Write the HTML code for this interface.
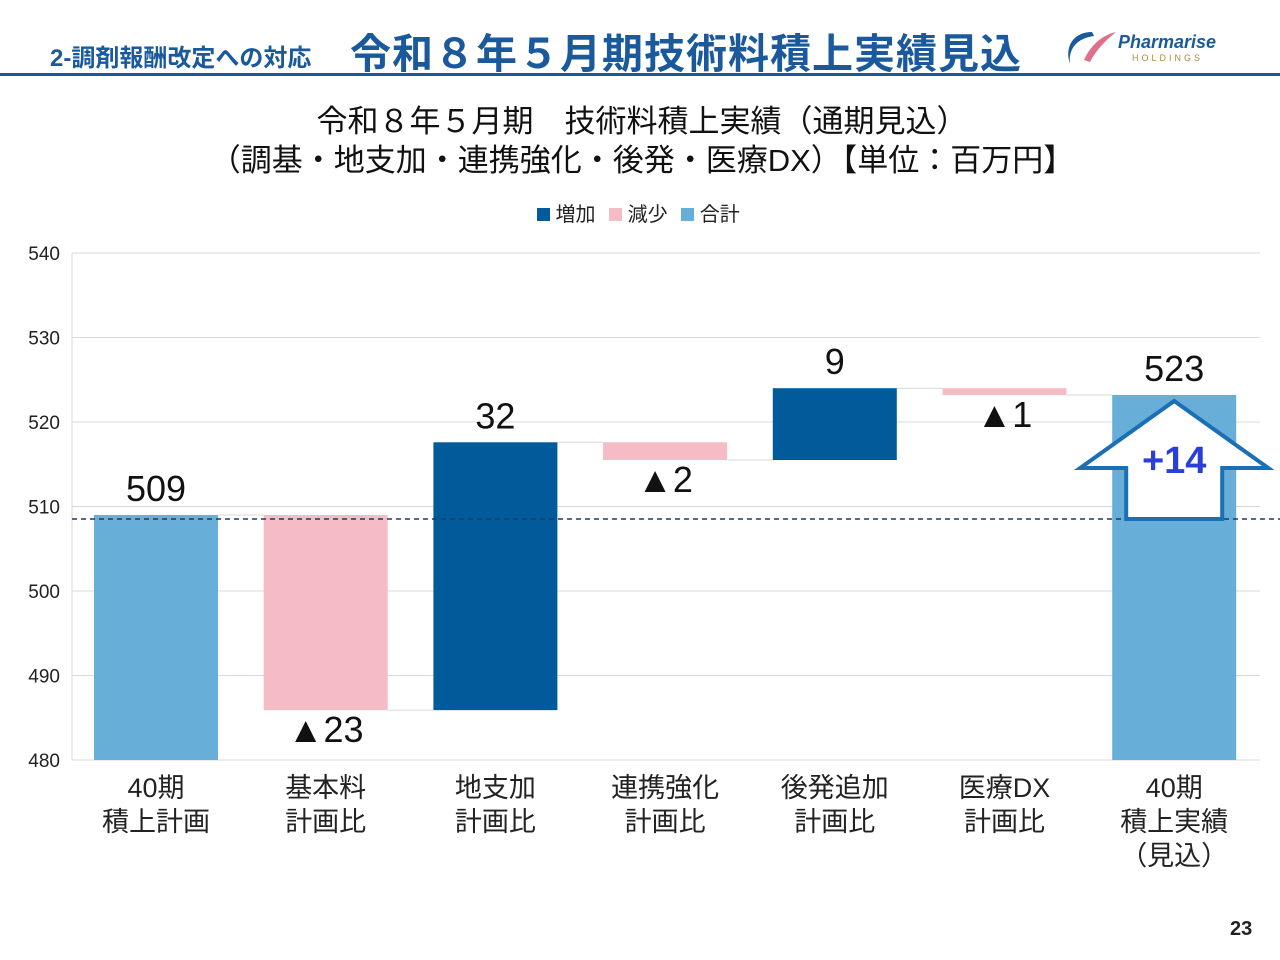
<!DOCTYPE html>
<html><head><meta charset="utf-8">
<style>
body{margin:0;width:1280px;height:960px;background:#fff;overflow:hidden;font-family:"Liberation Sans","Noto Sans CJK JP",sans-serif;position:relative}
.abs{position:absolute}
</style></head><body>
<div class="abs" style="left:50px;top:38px;font-size:24px;font-weight:bold;color:#1a5a9c;white-space:nowrap">2-調剤報酬改定への対応</div>
<div class="abs" style="left:350px;top:20px;font-size:41px;font-weight:bold;color:#1a5a9c;letter-spacing:1px;white-space:nowrap">令和８年５月期技術料積上実績見込</div>
<div class="abs" style="left:1062px;top:26px;width:170px;height:44px">
 <svg width="56" height="44" style="position:absolute;left:0;top:0"><path d="M30 6 C12 6 2 20 8 38 C6 22 16 12 32 10Z" fill="#1a5a9c"/><path d="M22 34 C30 16 44 8 54 6 C44 14 34 24 28 36Z" fill="#e0708a"/></svg>
 <div class="abs" style="left:56px;top:6px;font-size:18px;font-weight:bold;font-style:italic;color:#1a5a9c">Pharmarise</div>
 <div class="abs" style="left:70px;top:27px;font-size:9px;letter-spacing:3px;color:#b08a3a">HOLDINGS</div>
</div>
<div class="abs" style="left:0;top:73px;width:1280px;height:3px;background:#1a5a9c"></div>
<div class="abs" style="left:0;top:102px;width:1284px;text-align:center;font-size:31px;line-height:39px;color:#111;white-space:nowrap">令和８年５月期　技術料積上実績（通期見込）<br>（調基・地支加・連携強化・後発・医療DX）【単位：百万円】</div>
<div class="abs" style="left:537px;top:198px;font-size:20px;color:#222;white-space:nowrap">
<span><span style="display:inline-block;width:13px;height:13px;background:#015b9b"></span> 増加</span>
<span><span style="display:inline-block;width:13px;height:13px;background:#f5bcc5;margin-left:8px"></span> 減少</span>
<span><span style="display:inline-block;width:13px;height:13px;background:#67afd8;margin-left:8px"></span> 合計</span>
</div>
<svg id="chart" class="abs" style="left:0;top:0" width="1280" height="960"></svg>
<div class="abs" style="left:1230px;top:918px;font-size:20px;font-weight:bold;color:#222">23</div>
<script>
const categories=[["40期","積上計画"],["基本料","計画比"],["地支加","計画比"],["連携強化","計画比"],["後発追加","計画比"],["医療DX","計画比"],["40期","積上実績","（見込）"]];
const startValue=509.0;
const deltas=[-23.1,31.7,-2.1,8.5,-0.8];
const totalValue=523.2;
const valueLabels=["509","▲23","32","▲2","9","▲1","523"];
const yTicks=[480,490,500,510,520,530,540];
const diffLabel="+14";
const NS="http://www.w3.org/2000/svg";
const svg=document.getElementById('chart');
const y0=760,y1=253,vmin=480,vmax=540;
const y=v=>y0-(v-vmin)/(vmax-vmin)*(y0-y1);
const x=i=>156+i*169.7;
const bw=124;
function mk(t,a){const e=document.createElementNS(NS,t);for(const k in a)e.setAttribute(k,a[k]);svg.appendChild(e);return e;}
yTicks.forEach(t=>{const g=mk('line',{x1:72,x2:1260,y1:y(t),y2:y(t),stroke:'#d9d9d9','stroke-width':1});


const l=mk('text',{x:60,y:y(t)+7,'text-anchor':'end','font-size':19,fill:'#222'});l.textContent=t;

});
mk('line',{x1:72,x2:72,y1:y1,y2:y0,stroke:'#d9d9d9'});
let segs=[];let cur=startValue;
segs.push({lo:vmin,hi:startValue,c:'#67afd8'});
deltas.forEach(d=>{const n=cur+d;segs.push({lo:Math.min(cur,n),hi:Math.max(cur,n),c:d>=0?'#015b9b':'#f5bcc5',neg:d<0});cur=n;});
segs.push({lo:vmin,hi:totalValue,c:'#67afd8'});
let levels=[startValue];cur=startValue;deltas.forEach(d=>{cur+=d;levels.push(cur);});
for(let i=0;i<levels.length;i++){const c=mk('line',{x1:x(i)+bw/2,x2:x(i+1)-bw/2,y1:y(levels[i]),y2:y(levels[i]),stroke:'#d9d9d9'});

}
segs.forEach((s,i)=>{const r=mk('rect',{x:x(i)-bw/2,y:y(s.hi),width:bw,height:y(s.lo)-y(s.hi),fill:s.c});


const ly=s.neg?y(s.lo)+32:y(s.hi)-14;
const t=mk('text',{x:x(i),y:ly,'text-anchor':'middle','font-size':36,fill:'#111'});t.textContent=valueLabels[i];


categories[i].forEach((ln,j)=>{const c=mk('text',{x:x(i),y:797+j*34,'text-anchor':'middle','font-size':27,fill:'#222'});c.textContent=ln;

});});
const dl=mk('line',{x1:72,x2:1280,y1:y(startValue)+4,y2:y(startValue)+4,stroke:'#1f3864','stroke-width':1.5,'stroke-dasharray':'5,4'});


const cx=x(6),ty=y(totalValue)+6,by=y(startValue)+4;
const ar=mk('polygon',{points:`${cx},${ty} ${cx+94},${ty+67} ${cx+48},${ty+67} ${cx+48},${by} ${cx-48},${by} ${cx-48},${ty+67} ${cx-94},${ty+67}`,fill:'#fff',stroke:'#1a6fb5','stroke-width':4,'stroke-linejoin':'miter'});


const dt=mk('text',{x:cx,y:ty+72,'text-anchor':'middle','font-size':38,'font-weight':'bold',fill:'#2a3ed8'});dt.textContent=diffLabel;


</script>
</body></html>
